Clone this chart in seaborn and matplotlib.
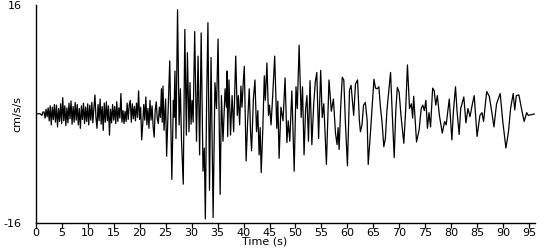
import numpy as np
import pandas as pd
import matplotlib
matplotlib.use("Agg")
import matplotlib.pyplot as plt
import seaborn as sns

# ---- data ----
# quiet start
start_time = [0.0, 0.8, 1.2, 1.4]
start_accel = [0.0, 0.05, -0.2, 0.3]

# small-amplitude noise, sampled every 0.2 s from 1.6 s
noise_t0 = 1.6
noise_dt = 0.2
noise_accel = [
    0.3, -0.6, 0.7, -0.4, 0.9, -1.0, 1.2, -1.6, 1.0, -0.8,
    1.4, -1.2, 1.3, -1.9, 0.8, -1.1, 1.5, -1.4, 2.4, -1.0,
    1.2, -1.7, 0.9, -1.3, 1.6, -0.7, 1.9, -1.5, 1.1, -1.2,
    1.7, -0.9, 1.4, -1.6, 0.8, -2.1, 1.2, -0.8, 1.6, -1.4,
    1.0, -1.1, 1.5, -1.6, 1.3, -0.9, 1.7, -1.3, 0.9, 2.8,
    -0.6, -2.1, 1.4, -1.0, 2.2, -1.5, 1.1, -2.4, 1.6, -1.2,
    1.8, -1.0, 1.2, -3.1, 0.7, -1.3, 1.4, -0.9, 1.1, -1.4,
    1.8, -1.1, 0.9, -0.6, 3.0, -1.2, 0.5, -1.4, 0.4, -1.1,
    1.6, -0.8, 1.3, 2.0, -1.2, 1.5, -0.7, 1.1, -1.0, 1.6,
    -0.5, 3.4, -0.8, 1.0, -3.8, -1.5, 1.4, -0.9, 2.5, -1.6,
    0.8, -2.1, 2.0, -0.9, 1.2, -1.8, -3.4, 0.6, 1.8, -0.7,
    -1.4, 1.0,
]

# strong motion and coda: turning points (time s, cm/s/s)
main_time = [
    24.0, 24.2, 24.35, 24.5, 24.7, 25.0, 25.2, 25.5, 25.8, 26.2,
    26.5, 26.6, 26.8, 27.0, 27.3, 27.6, 27.85, 28.05, 28.4, 28.7,
    29.0, 29.2, 29.5, 29.7, 29.9, 30.1, 30.3, 30.6, 30.95, 31.25,
    31.55, 31.85, 32.2, 32.45, 32.65, 32.9, 33.15, 33.45, 33.75, 34.15,
    34.5, 34.8, 35.1, 35.5, 35.75, 36.05, 36.45, 36.7, 36.85, 36.95,
    37.2, 37.5, 37.8, 38.1, 38.5, 38.8, 39.0, 39.25, 39.5, 39.7,
    39.95, 40.15, 40.5, 40.8, 41.1, 41.35, 41.55, 41.9, 42.2, 42.5,
    42.75, 43.0, 43.2, 43.4, 43.7, 44.0, 44.2, 44.5, 44.8, 45.0,
    45.3, 45.6, 46.0, 46.4, 46.6, 46.85, 47.2, 47.6, 48.0, 48.35,
    48.6, 48.9, 49.3, 49.75, 50.1, 50.35, 50.7, 51.1, 51.35, 51.65,
    51.95, 52.2, 52.5, 52.8, 53.15, 53.5, 53.8, 54.1, 54.45, 54.85,
    55.15, 55.45, 55.95, 56.45, 56.9, 57.3, 57.7, 58.0, 58.2, 58.4,
    58.7, 59.0, 59.3, 59.6, 60.0, 60.4, 60.7, 61.2, 61.55, 61.95,
    62.3, 62.5, 62.8, 63.1, 63.45, 63.8, 64.0, 64.4, 64.7, 65.1,
    65.4, 65.7, 66.05, 66.35, 66.65, 67.0, 67.3, 67.6, 68.0, 68.3,
    68.6, 69.0, 69.3, 69.6, 69.95, 70.3, 70.85, 71.2, 71.55, 71.95,
    72.3, 72.55, 72.75, 73.3, 73.8, 74.2, 74.5, 74.8, 75.1, 75.4,
    75.7, 76.0, 76.4, 76.7, 77.0, 77.3, 77.7, 78.25, 78.7, 79.0,
    79.6, 80.1, 80.4, 80.8, 81.1, 81.5, 81.8, 82.4, 82.8, 83.2,
    83.6, 84.0, 84.4, 84.95, 85.5, 85.9, 86.2, 86.8, 87.3, 87.8,
    88.2, 88.7, 89.4, 89.9, 90.5, 91.0, 91.4, 91.9, 92.2, 92.5,
    93.0, 93.5, 94.0, 94.5, 94.8, 95.4, 96.0,
]
main_accel = [
    -0.5, 3.7, -1.2, 4.1, -2.4, 2.2, -6.2, 0.6, 7.8, -9.6,
    2.0, -0.5, 6.3, -3.6, 15.3, -1.6, 3.7, -3.6, -10.3, 12.4,
    -3.1, 9.0, -2.6, 4.6, -1.5, 2.0, -1.2, 12.1, -4.0, 8.5,
    -6.0, 11.9, -8.4, -5.0, -15.4, 2.0, 13.4, -11.2, 8.3, -15.2,
    4.6, 0.8, 11.0, -11.8, 2.7, -4.0, 3.7, 1.0, 6.3, -3.3,
    5.0, -3.1, 2.7, -2.6, 8.5, -0.2, 2.7, -1.6, 4.1, 1.0,
    4.6, 7.0, -6.9, -1.0, 3.7, -2.6, -5.4, 2.2, 5.0, -2.6,
    0.5, -6.0, -2.0, -8.6, -2.5, 5.6, 2.0, 7.5, -0.2, 1.3,
    -1.6, 2.5, 8.5, -2.1, 1.9, -6.5, 1.0, -1.0, 5.3, -4.2,
    -1.0, -4.0, 3.4, -8.4, 4.0, 0.8, 10.1, -0.5, 4.0, -6.0,
    0.8, 2.7, -4.0, 4.9, -4.5, 1.3, 4.6, 6.1, -3.6, 6.4,
    -0.5, 1.5, -7.4, 5.0, 0.4, 2.2, -2.8, -4.5, -2.0, -5.2,
    1.0, 5.4, 5.0, -1.1, -7.6, 3.5, 4.2, -0.2, 4.4, 5.0,
    -1.0, -2.6, -1.6, 1.3, 1.7, -1.0, -7.4, -3.1, 0.5, 5.1,
    3.8, 3.7, 4.0, 1.0, -1.1, -4.8, -3.6, 0.5, 3.7, 6.1,
    0.5, -6.4, 0.4, 3.9, 3.2, -0.2, -4.3, 0.5, 7.2, 0.8,
    1.5, -0.6, 2.6, -4.1, -2.3, 0.8, 1.3, 0.5, 2.0, -2.1,
    0.2, -1.9, 3.8, 3.4, 1.3, 2.7, -0.2, -2.8, -1.1, -1.6,
    2.2, -3.8, 0.4, 4.0, 0.4, -3.0, 0.8, 2.5, -1.3, 0.8,
    -0.4, 1.3, 2.7, -3.3, -0.2, 0.2, -1.1, 3.3, 2.6, 0.2,
    -1.9, 1.5, 3.0, -1.1, -5.0, -2.6, 0.8, 3.0, 0.6, 2.7,
    2.8, 0.8, -1.1, 0.2, -0.2, -0.1, 0.0,
]

y_ticks = [-16, 16]
x_ticks = list(range(0, 100, 5))

# ---- assemble series ----
noise_time = list(noise_t0 + noise_dt * np.arange(len(noise_accel)))
df = pd.DataFrame({
    "Time (s)": start_time + noise_time + main_time,
    "cm/s/s": start_accel + noise_accel + main_accel,
})

sns.set_theme(style="white")
plt.rcParams["font.family"] = ["Liberation Sans Narrow", "DejaVu Sans"]

fig = plt.figure(figsize=(5.5, 2.5), dpi=100)
ax = fig.add_axes([35.7 / 550, 27 / 250, (535 - 35.7) / 550, 218 / 250])

sns.lineplot(data=df, x="Time (s)", y="cm/s/s", color="black", lw=0.9,
             estimator=None, sort=True, ax=ax)

ax.set_xlim(0, 96.1)
ax.set_ylim(-16, 16)
ax.set_xticks(x_ticks)
ax.set_yticks(y_ticks)
ax.set_yticklabels([str(v) for v in y_ticks])

for s in ["top", "right"]:
    ax.spines[s].set_visible(False)
for s in ["left", "bottom"]:
    ax.spines[s].set_color("black")
    ax.spines[s].set_linewidth(1.0)

ax.tick_params(axis="x", direction="out", length=3.5, width=0.9, color="black",
               pad=0.0, labelsize=8, labelcolor="black", bottom=True)
ax.tick_params(axis="y", length=0, pad=10, labelsize=8, labelcolor="black", left=True)

ax.set_xlabel("Time (s)", fontsize=8, color="black")
ax.set_ylabel("cm/s/s", fontsize=8, color="black")
ax.xaxis.set_label_coords(0.459, -0.062)
ax.yaxis.set_label_coords(-0.027, 0.5)
ax.grid(False)

fig.savefig("out.png", dpi=100, facecolor="white")
